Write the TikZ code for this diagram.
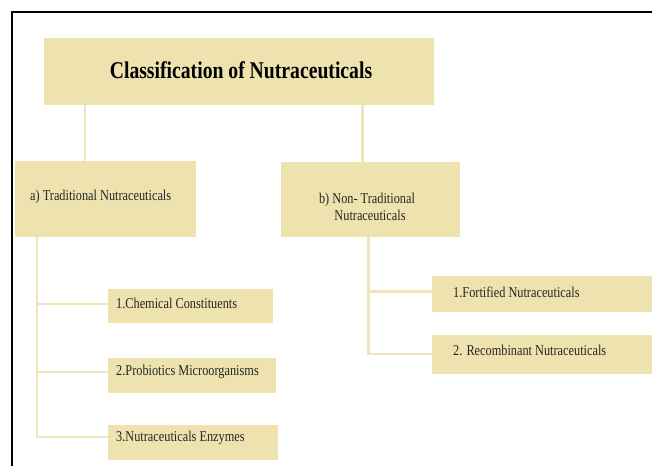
\documentclass[tikz,border=0pt]{standalone}
\usepackage{fontspec}
\setmainfont{Liberation Serif}[FakeStretch=0.82]
\definecolor{boxfill}{HTML}{EEE2AF}
\definecolor{linecol}{HTML}{F0E5BA}
\definecolor{txt}{HTML}{262626}
\begin{document}
\begin{tikzpicture}[x=1pt,y=-1pt,
  box/.style={fill=boxfill, rectangle, inner sep=0pt, outer sep=0pt, anchor=north west},
  conn/.style={draw=linecol, line width=2.5pt},
  lbl/.style={font=\fontsize{15}{17}\selectfont, text=txt, inner sep=0pt},
  ttl/.style={font=\fontsize{24}{28}\selectfont\bfseries, text=black, inner sep=0pt}]
\useasboundingbox (0,0) rectangle (652,466);
% frame
\draw[line width=2pt, black] (12,466) -- (12,12) -- (652,12);
% boxes
\node[box, minimum width=390, minimum height=67] (title) at (44,38) {};
\node[box, minimum width=181, minimum height=76] (a) at (15,160.5) {};
\node[box, minimum width=179, minimum height=75] (b) at (281,162) {};
\node[box, minimum width=165, minimum height=34] (c1) at (108,289) {};
\node[box, minimum width=168, minimum height=35] (c2) at (108,358) {};
\node[box, minimum width=170, minimum height=35] (c3) at (108,425) {};
\node[box, minimum width=220, minimum height=36] (d1) at (432,276) {};
\node[box, minimum width=220, minimum height=39] (d2) at (432,335) {};
% texts
\node[ttl] (titlet) at (241,70) {Classification of Nutraceuticals};
\node[lbl, anchor=west] (at) at (30,197) {a) Traditional Nutraceuticals};
\node[lbl, align=center] (bt) at (367,206.5) {b) Non- Traditional\\\hspace*{6pt}Nutraceuticals};
\node[lbl, anchor=west] (c1t) at (116,303) {1.Chemical Constituents};
\node[lbl, anchor=west] (c2t) at (116,372) {2.Probiotics Microorganisms};
\node[lbl, anchor=west] (c3t) at (116,437.5) {3.Nutraceuticals Enzymes};
\node[lbl, anchor=west] (d1t) at (453,292.5) {1.Fortified Nutraceuticals};
\node[lbl, anchor=west] (d2t) at (453,350) {2. Recombinant Nutraceuticals};
% connector guide coordinates
\coordinate (xa) at (85,0);
\coordinate (xb) at (362.5,0);
\coordinate (ta) at (37,0);
\coordinate (tb) at (368.5,0);
\coordinate (y1) at (0,304);
\coordinate (y2) at (0,372);
\coordinate (y3) at (0,437);
\coordinate (z1) at (0,291.5);
\coordinate (z2) at (0,354);
% connectors
\draw[conn] (title.south -| xa) -- (a.north -| xa);
\draw[conn] (title.south -| xb) -- (b.north -| xb);
\draw[conn] (a.south -| ta) -- (ta |- y3) -- (c3.west |- y3);
\draw[conn] (ta |- y1) -- (c1.west |- y1);
\draw[conn] (ta |- y2) -- (c2.west |- y2);
\draw[conn] (b.south -| tb) -- (tb |- z2) -- (d2.west |- z2);
\draw[conn] (tb |- z1) -- (d1.west |- z1);
\end{tikzpicture}
\end{document}
